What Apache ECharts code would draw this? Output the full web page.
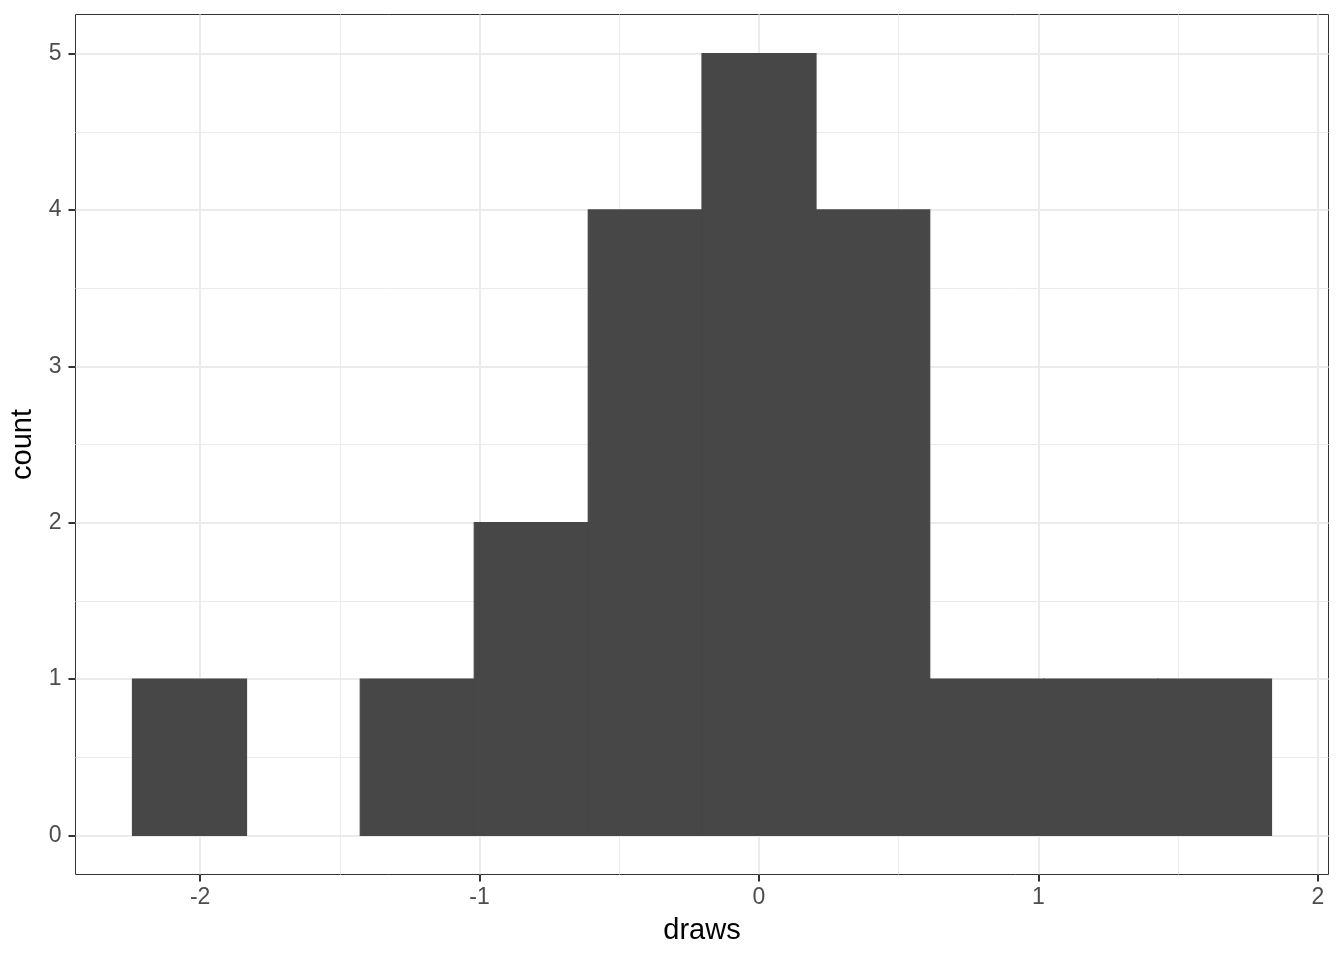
<!DOCTYPE html>
<html>
<head>
<meta charset="utf-8">
<script src="https://cdn.jsdelivr.net/npm/echarts@6/dist/echarts.min.js"></script>
<style>
  html, body { margin: 0; padding: 0; background: #fff; }
</style>
</head>
<body>
<div id="chart" style="width:1344px;height:960px"></div>
<script>
// histogram bins (left edge, right edge) and counts
const binStarts = [-2.242, -1.834, -1.427, -1.019, -0.611, -0.204, 0.204, 0.611, 1.019, 1.427];
const binEnds = [-1.834, -1.427, -1.019, -0.611, -0.204, 0.204, 0.611, 1.019, 1.427, 1.834];
const counts = [1, 0, 1, 2, 4, 5, 4, 1, 1, 1];

// tick positions
const xMajor = [-2, -1, 0, 1, 2];
const xMinor = [-1.5, -0.5, 0.5, 1.5];
const yMajor = [0, 1, 2, 3, 4, 5];
const yMinor = [0.5, 1.5, 2.5, 3.5, 4.5];

const xRange = [-2.446, 2.038];
const yRange = [-0.25, 5.25];

const FONT = '"Liberation Sans", Arial, Helvetica, sans-serif';

const chart = echarts.init(document.getElementById('chart'));

// minor grid axis (only split lines), major axis (ticks, labels, thicker lines)
function makeAxes(range, minor, major, pos, name, isX) {
  return [
    {
      type: 'value',
      position: pos,
      min: range[0],
      max: range[1],
      axisLine: { show: false, onZero: false },
      axisTick: { show: false, customValues: minor },
      axisLabel: { show: false, customValues: minor },
      splitLine: { show: true, lineStyle: { color: '#EBEBEB', width: 1 } }
    },
    {
      type: 'value',
      position: pos,
      min: range[0],
      max: range[1],
      name: name,
      nameLocation: 'middle',
      nameGap: isX ? 42 : 34,
      nameTextStyle: { color: '#000', fontSize: 29, fontFamily: FONT },
      axisLine: { show: false, onZero: false },
      axisTick: {
        show: true,
        length: 7,
        customValues: major,
        lineStyle: { color: '#333333', width: 2 }
      },
      axisLabel: {
        show: true,
        customValues: major,
        color: '#4D4D4D',
        fontSize: 23,
        fontFamily: FONT,
        margin: isX ? 12 : 14
      },
      splitLine: { show: true, lineStyle: { color: '#EBEBEB', width: 2 } }
    }
  ];
}

const histData = binStarts.map((s, i) => [s, binEnds[i], counts[i]]);

chart.setOption({
  animation: false,
  backgroundColor: '#fff',
  grid: {
    left: 75.5,
    right: 15.5,
    top: 14.5,
    bottom: 85.5,
    show: true,
    backgroundColor: '#fff',
    borderColor: '#333333',
    borderWidth: 1
  },
  xAxis: makeAxes(xRange, xMinor, xMajor, 'bottom', 'draws', true),
  yAxis: makeAxes(yRange, yMinor, yMajor, 'left', 'count', false),
  series: [
    {
      type: 'custom',
      xAxisIndex: 1,
      yAxisIndex: 1,
      data: histData,
      encode: { x: [0, 1], y: 2 },
      renderItem: function (params, api) {
        if (!api.value(2)) return;
        const p0 = api.coord([api.value(0), api.value(2)]);
        const p1 = api.coord([api.value(1), 0]);
        return {
          type: 'rect',
          shape: { x: p0[0], y: p0[1], width: p1[0] - p0[0], height: p1[1] - p0[1] },
          style: { fill: '#474747', stroke: '#474747', lineWidth: 1.2 }
        };
      }
    }
  ]
});
</script>
</body>
</html>
